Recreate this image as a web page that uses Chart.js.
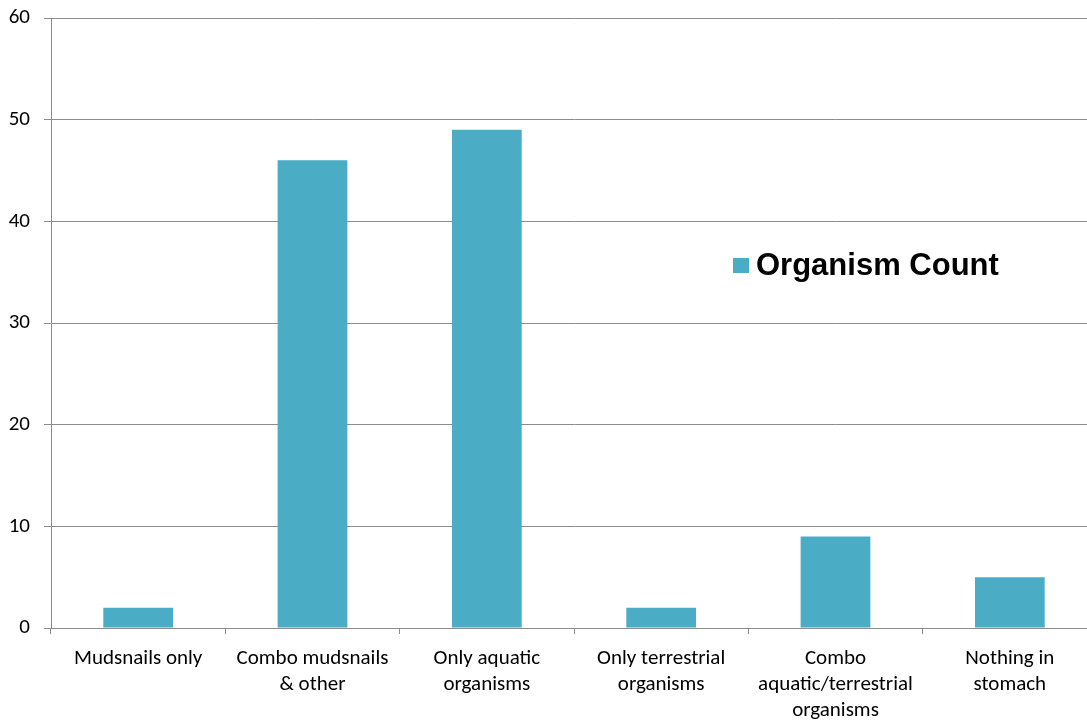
<!DOCTYPE html>
<html>
<head>
<meta charset="utf-8">
<script src="https://cdn.jsdelivr.net/npm/chart.js@4"></script>
<style>
  html, body { margin: 0; padding: 0; background: #fff; overflow: hidden; }
  /* plot runs a little past the right edge of the window */
  #wrap { width: 1097px; height: 721px; position: relative; }
</style>
</head>
<body>
<div id="wrap"><canvas id="organism-chart"></canvas></div>
<script>
const categories = [
    'Mudsnails only',
    ['Combo mudsnails', '& other'],
    ['Only aquatic', 'organisms'],
    ['Only terrestrial', 'organisms'],
    ['Combo', 'aquatic/terrestrial', 'organisms'],
    ['Nothing in', 'stomach']
];
const organismCount = [2, 46, 49, 2, 9, 5];
const yTicks = [0, 10, 20, 30, 40, 50, 60];

const barColor = '#4BACC6';
const axisColor = '#8c8c8c';
const labelFont = { family: 'Carlito, Calibri, Lato, sans-serif', size: 21, lineHeight: 1.24 };

// legend sits inside the plot, to the right of the tall bars
const insideLegend = {
    id: 'insideLegend',
    afterDraw(chart) {
        const ctx = chart.ctx;
        const ds = chart.data.datasets[0];
        ctx.save();
        ctx.fillStyle = ds.backgroundColor;
        ctx.fillRect(733, 258, 16, 15);
        ctx.fillStyle = '#000';
        ctx.font = 'bold 31px "Liberation Sans", Arial, sans-serif';
        ctx.textBaseline = 'middle';
        ctx.fillText(ds.label, 756, 266);
        ctx.restore();
    }
};

new Chart(document.getElementById('organism-chart'), {
    type: 'bar',
    data: {
        labels: categories,
        datasets: [{
            label: 'Organism Count',
            data: organismCount,
            backgroundColor: barColor,
            categoryPercentage: 1,
            barPercentage: 0.4
        }]
    },
    options: {
        responsive: true,
        maintainAspectRatio: false,
        animation: false,
        layout: { padding: { top: 18, right: 0, left: 0, bottom: 0 } },
        plugins: {
            legend: { display: false },
            tooltip: { enabled: false }
        },
        scales: {
            x: {
                grid: {
                    display: true,
                    offset: true,
                    drawOnChartArea: false,
                    drawTicks: true,
                    tickLength: 6,
                    color: axisColor
                },
                border: { display: true, color: axisColor, width: 1 },
                ticks: {
                    color: '#000',
                    font: labelFont,
                    padding: 12,
                    maxRotation: 0,
                    autoSkip: false
                },
                afterFit(scale) { scale.height = 93; }
            },
            y: {
                min: 0,
                max: 60,
                afterBuildTicks(scale) {
                    scale.ticks = yTicks.map(v => ({ value: v }));
                },
                grid: {
                    color: axisColor,
                    drawTicks: true,
                    tickLength: 7
                },
                border: { display: true, color: axisColor, width: 1 },
                ticks: {
                    color: '#000',
                    font: labelFont,
                    padding: 14
                },
                afterFit(scale) {
                    scale.width = 51;
                    scale.paddingTop = 0;
                    scale.paddingBottom = 0;
                }
            }
        }
    },
    plugins: [insideLegend]
});
</script>
</body>
</html>
